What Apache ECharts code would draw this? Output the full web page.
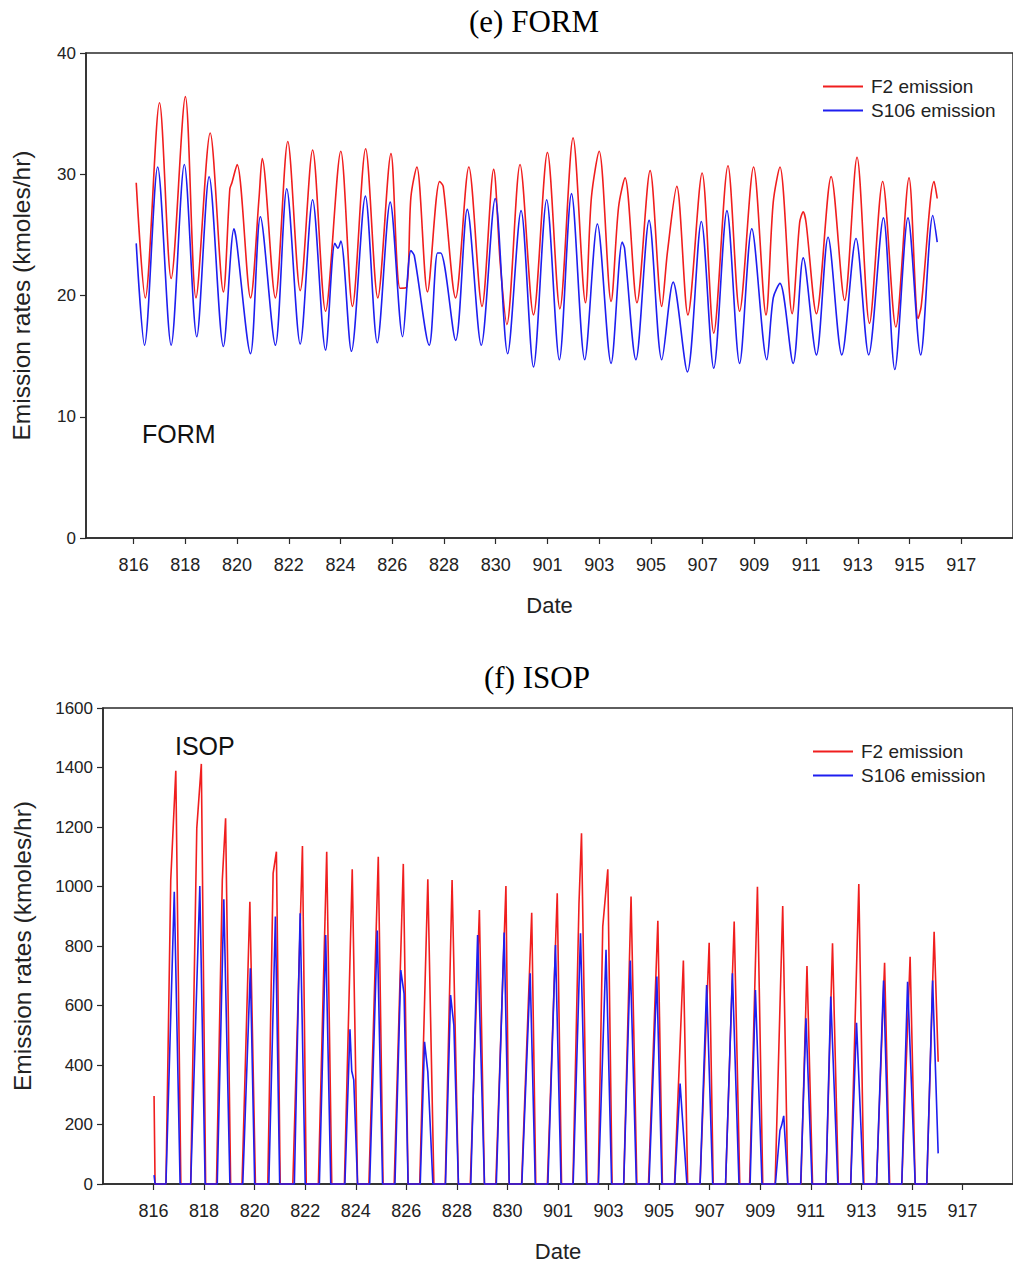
<!DOCTYPE html>
<html>
<head>
<meta charset="utf-8">
<script src="https://cdn.jsdelivr.net/npm/echarts@6/dist/echarts.min.js"></script>
<style>
html,body{margin:0;padding:0;background:#fff;}
#chart{width:1013px;height:1264px;}
</style>
</head>
<body>
<div id="chart"></div>
<script>
// ---------- DATA ----------
// x = days since 816 (Aug 16) 00:00, y = emission rate (kmoles/hr)
const dateLabels = ['816','818','820','822','824','826','828','830','901','903','905','907','909','911','913','915','917'];
const seriesNames = ['F2 emission', 'S106 emission'];

const formF2 = [[0.10,29.3],[0.45,19.8],[1.00,35.9],[1.45,21.4],[2.00,36.4],[2.41,19.8],[2.96,33.4],[3.47,20.3],[3.72,28.8],[3.80,29.3],[4.00,30.8],[4.52,19.8],[4.85,28.1],[4.97,31.3],[5.48,19.8],[5.96,32.7],[6.44,20.4],[6.92,32.0],[7.42,18.7],[8.01,31.9],[8.46,19.1],[8.97,32.1],[9.44,19.8],[9.95,31.7],[10.30,20.6],[10.56,20.7],[10.72,28.1],[10.95,30.6],[11.36,20.3],[11.83,29.4],[11.97,29.0],[12.45,19.8],[12.96,30.6],[13.47,19.1],[13.92,30.4],[14.18,22.5],[14.43,17.6],[14.94,30.8],[15.46,18.4],[16.00,31.8],[16.48,18.9],[16.99,33.0],[17.47,19.4],[17.70,28.1],[18.00,31.9],[18.46,19.5],[18.75,27.3],[19.00,29.7],[19.46,19.4],[19.97,30.3],[20.42,19.1],[20.64,23.6],[21.00,29.0],[21.43,18.4],[21.98,30.1],[22.43,16.9],[22.98,30.7],[23.43,18.7],[23.97,30.6],[24.45,18.4],[24.73,27.7],[24.99,30.6],[25.46,18.5],[25.75,26.0],[25.89,26.9],[26.00,26.0],[26.40,18.5],[26.97,29.8],[27.49,19.6],[27.97,31.4],[28.45,17.7],[28.96,29.4],[29.47,17.4],[29.98,29.7],[30.33,18.1],[30.45,19.1],[30.95,29.4],[31.07,28.0]];

const formS106 = [[0.10,24.3],[0.42,15.9],[0.93,30.6],[1.45,15.9],[1.96,30.8],[2.44,16.6],[2.92,29.8],[3.47,15.8],[3.88,25.5],[3.97,24.6],[4.52,15.2],[4.90,26.5],[5.48,15.9],[5.92,28.8],[6.44,16.0],[6.92,27.9],[7.42,15.5],[7.78,24.3],[7.90,23.9],[8.01,24.5],[8.42,15.4],[8.96,28.2],[9.42,16.1],[9.92,27.7],[10.40,16.6],[10.72,23.7],[10.85,23.3],[11.43,15.9],[11.75,23.5],[11.87,23.5],[12.45,16.3],[12.90,27.1],[13.44,15.9],[13.98,28.0],[14.46,15.2],[14.98,27.0],[15.46,14.1],[15.97,27.9],[16.46,14.7],[16.93,28.4],[17.44,14.7],[17.93,25.9],[18.46,14.4],[18.89,24.4],[18.98,23.9],[19.42,14.7],[19.93,26.2],[20.42,14.7],[20.86,21.1],[21.41,13.7],[21.95,26.1],[22.43,14.0],[22.94,27.0],[23.43,14.4],[23.90,25.5],[24.48,14.7],[24.73,19.8],[24.99,21.0],[25.50,14.4],[25.89,23.1],[26.40,15.1],[26.85,24.8],[27.38,15.1],[27.93,24.7],[28.42,15.1],[28.99,26.4],[29.43,13.9],[29.94,26.4],[30.43,15.1],[30.90,26.6],[31.07,24.4]];

const isopF2 = [[0.02,296],[0.06,0],
[0.49,0],[0.68,1022],[0.88,1389],[1.08,0],
[1.47,0],[1.71,1196],[1.89,1412],[2.06,0],
[2.49,0],[2.72,1022],[2.85,1229],[3.05,0],
[3.50,0],[3.81,949],[4.03,0],
[4.52,0],[4.73,1044],[4.86,1117],[5.01,0],
[5.51,0],[5.89,1136],[6.04,0],
[6.52,0],[6.85,1117],[7.05,0],
[7.55,0],[7.86,1058],[8.07,0],
[8.52,0],[8.89,1100],[9.08,0],
[9.52,0],[9.88,1076],[10.07,0],
[10.53,0],[10.85,1024],[11.09,0],
[11.54,0],[11.81,1022],[12.06,0],
[12.53,0],[12.89,921],[13.09,0],
[13.54,0],[13.94,1002],[14.07,0],
[14.56,0],[14.96,912],[15.12,0],
[15.58,0],[15.97,977],[16.14,0],
[16.59,0],[16.83,943],[16.93,1179],[17.15,0],
[17.59,0],[17.77,865],[17.97,1058],[18.14,0],
[18.60,0],[18.89,966],[19.12,0],
[19.58,0],[19.95,885],[20.13,0],
[20.61,0],[20.96,751],[21.13,0],
[21.62,0],[21.98,811],[22.14,0],
[22.63,0],[22.97,882],[23.19,0],
[23.58,0],[23.89,999],[24.10,0],
[24.59,0],[24.89,934],[25.09,0],
[25.61,0],[25.85,733],[26.07,0],
[26.60,0],[26.86,809],[27.09,0],
[27.58,0],[27.90,1008],[28.10,0],
[28.60,0],[28.92,744],[29.12,0],
[29.60,0],[29.93,764],[30.13,0],
[30.59,0],[30.88,848],[31.04,411]];

const isopS106 = [[0.02,30],[0.06,0],
[0.49,0],[0.82,982],[1.05,0],
[1.47,0],[1.83,1002],[2.04,0],
[2.52,0],[2.78,957],[3.02,0],
[3.53,0],[3.83,725],[4.00,0],
[4.56,0],[4.82,899],[4.99,0],
[5.57,0],[5.80,910],[6.00,0],
[6.56,0],[6.81,837],[7.01,0],
[7.57,0],[7.77,520],[7.84,380],[7.92,350],[8.07,0],
[8.55,0],[8.85,852],[9.06,0],
[9.55,0],[9.78,719],[9.91,640],[10.07,0],
[10.55,0],[10.72,478],[10.85,377],[11.05,0],
[11.55,0],[11.75,635],[11.88,534],[12.06,0],
[12.55,0],[12.82,837],[13.09,0],
[13.56,0],[13.87,845],[14.07,0],
[14.57,0],[14.90,708],[15.10,0],
[15.60,0],[15.90,803],[16.12,0],
[16.60,0],[16.89,843],[17.13,0],
[17.60,0],[17.90,787],[18.12,0],
[18.60,0],[18.86,751],[19.10,0],
[19.60,0],[19.91,697],[20.11,0],
[20.62,0],[20.83,338],[21.10,0],
[21.62,0],[21.88,669],[22.12,0],
[22.63,0],[22.90,708],[23.16,0],
[23.60,0],[23.81,652],[24.07,0],
[24.60,0],[24.78,180],[24.85,198],[24.93,229],[25.09,0],
[25.60,0],[25.81,557],[26.05,0],
[26.60,0],[26.79,630],[27.07,0],
[27.58,0],[27.81,542],[28.08,0],
[28.60,0],[28.88,684],[29.10,0],
[29.60,0],[29.83,680],[30.13,0],
[30.59,0],[30.82,684],[31.04,103]];

// ---------- STYLE / LAYOUT ----------
const RED = '#f01e1e';
const BLUE = '#1e1ef0';
const AXIS = '#2a2a2a';
const SANS = "'Liberation Sans', Arial, Helvetica, sans-serif";
const SERIF = "'Liberation Serif', 'Times New Roman', serif";
const tickDays = dateLabels.map((_, i) => i * 2);

function xAxisCfg(gridIndex, min) {
  return {
    type: 'value', gridIndex: gridIndex, min: min, max: 34,
    name: 'Date', nameLocation: 'middle', nameGap: 56,
    nameTextStyle: { fontFamily: SANS, fontSize: 22, color: '#222' },
    axisLine: { show: true, onZero: false, lineStyle: { color: AXIS, width: 1.5 } },
    axisTick: { show: true, inside: false, length: 6, customValues: tickDays, lineStyle: { color: AXIS, width: 1.2 } },
    axisLabel: { show: true, margin: 18, customValues: tickDays, fontFamily: SANS, fontSize: 18, color: '#222',
      formatter: function (v) { return dateLabels[Math.round(v / 2)]; } },
    splitLine: { show: false }
  };
}
function yAxisCfg(gridIndex, max, interval, nameGap) {
  return {
    type: 'value', gridIndex: gridIndex, min: 0, max: max, interval: interval,
    name: 'Emission rates (kmoles/hr)', nameLocation: 'middle', nameRotate: 90, nameGap: nameGap,
    nameTextStyle: { fontFamily: SANS, fontSize: 24.5, color: '#222' },
    axisLine: { show: true, onZero: false, lineStyle: { color: AXIS, width: 1.5 } },
    axisTick: { show: true, inside: false, length: 6, lineStyle: { color: AXIS, width: 1.2 } },
    axisLabel: { show: true, margin: 10, fontFamily: SANS, fontSize: 17, color: '#222',
      formatter: function (v) { return String(v); } },
    splitLine: { show: false }
  };
}
function lineSeries(name, data, axisIndex, color, smooth, clip) {
  return {
    type: 'line', name: name, data: data, xAxisIndex: axisIndex, yAxisIndex: axisIndex,
    symbol: 'none', showSymbol: false, smooth: smooth, clip: clip,
    lineStyle: { color: color, width: 1.6 }, itemStyle: { color: color },
    emphasis: { disabled: true }
  };
}
function legendCfg(left, top) {
  return {
    data: seriesNames, orient: 'vertical', left: left, top: top,
    icon: 'rect', itemWidth: 40, itemHeight: 2, itemGap: 5,
    textStyle: { fontFamily: SANS, fontSize: 19, color: '#222', padding: [0, 0, 0, 3] },
    selectedMode: false
  };
}

const chart = echarts.init(document.getElementById('chart'), null, { renderer: 'svg', width: 1013, height: 1264 });
chart.setOption({
  animation: false,
  backgroundColor: '#ffffff',
  title: [
    { text: '(e) FORM', left: 464, top: 1, textStyle: { fontFamily: SERIF, fontSize: 31, fontWeight: 'normal', color: '#000' } },
    { text: '(f) ISOP', left: 479, top: 657, textStyle: { fontFamily: SERIF, fontSize: 31, fontWeight: 'normal', color: '#000' } }
  ],
  legend: [legendCfg(818, 72), legendCfg(808, 737)],
  grid: [
    { left: 86, top: 53, width: 934, height: 485, show: true, borderColor: AXIS, borderWidth: 1.5, backgroundColor: 'transparent' },
    { left: 103, top: 708, width: 915, height: 476, show: true, borderColor: AXIS, borderWidth: 1.5, backgroundColor: 'transparent' }
  ],
  xAxis: [xAxisCfg(0, -1.842), xAxisCfg(1, -2)],
  yAxis: [yAxisCfg(0, 40, 10, 52), yAxisCfg(1, 1600, 200, 68)],
  series: [
    lineSeries(seriesNames[0], formF2, 0, RED, 0.3, true),
    lineSeries(seriesNames[1], formS106, 0, BLUE, 0.3, true),
    lineSeries(seriesNames[0], isopF2, 1, RED, false, false),
    lineSeries(seriesNames[1], isopS106, 1, BLUE, false, false)
  ],
  graphic: [
    { type: 'text', left: 142, top: 421, style: { text: 'FORM', fontFamily: SANS, fontSize: 25, fill: '#111' } },
    { type: 'text', left: 175, top: 733, style: { text: 'ISOP', fontFamily: SANS, fontSize: 25, fill: '#111' } }
  ]
});
</script>
</body>
</html>
